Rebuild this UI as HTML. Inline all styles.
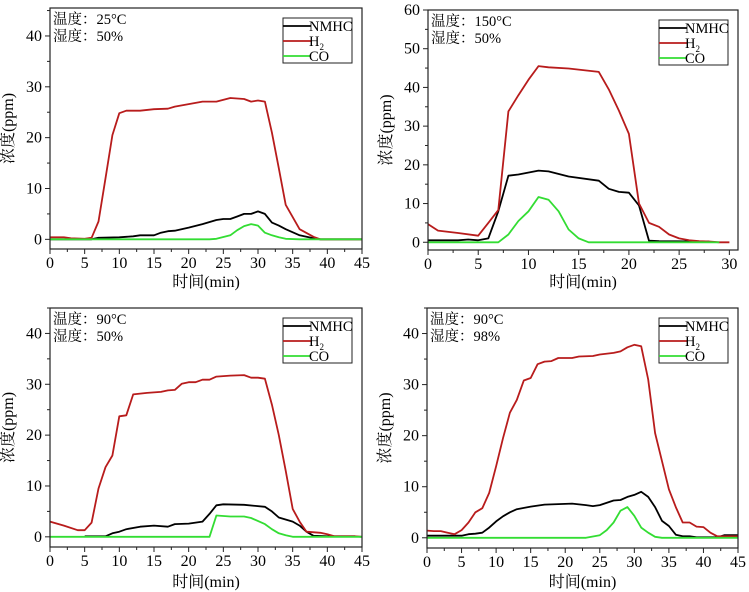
<!DOCTYPE html>
<html><head><meta charset="utf-8"><style>
body{margin:0;background:#fff;}
svg{display:block;font-family:"Liberation Serif","Noto Serif CJK SC",serif;}
</style></head><body>
<svg id="fig" width="749" height="592" viewBox="0 0 749 592"></svg>
<script>
// Panel 1: 25°C, 50%
const p1NMHC=[[0,0],[6,0],[7,0.3],[10,0.4],[12,0.6],[13,0.8],[15,0.8],[16,1.3],[17,1.6],[18,1.7],[20,2.3],[22,3],[24,3.8],[25,4],[26,4],[27,4.5],[28,5],[29,5],[30,5.5],[31,5],[32,3.3],[33,2.7],[34,2],[36,0.8],[37,0.5],[38,0.2],[39,0],[45,0]];
const p1H2=[[0,0.4],[2,0.4],[3,0.2],[5,0.1],[6,0.3],[7,3.5],[8,12],[9,20.5],[10,24.8],[11,25.3],[13,25.3],[15,25.6],[17,25.7],[18,26.1],[20,26.6],[22,27.1],[24,27.1],[26,27.8],[28,27.6],[29,27.1],[30,27.3],[31,27.1],[32,21],[33,14],[34,6.8],[36,2],[38,0.5],[39,0],[42,0],[45,0]];
const p1CO=[[0,0],[23,0],[24,0.1],[26,0.8],[27,1.8],[28,2.6],[29,3],[30,2.7],[31,1.3],[32,0.8],[33,0.4],[34,0.1],[36,0],[45,0]];
// Panel 2: 150°C, 50%
const p2NMHC=[[0,0.5],[3,0.5],[4,0.7],[5,0.5],[6,1],[7,8],[8,17.2],[9,17.5],[11,18.5],[12,18.3],[14,17],[17,15.9],[18,13.8],[19,13],[20,12.8],[21,9.5],[22,0.4],[23,0.3],[28,0.2]];
const p2H2=[[0,4.7],[1,3],[3,2.4],[5,1.7],[6,5],[7,8.3],[8,33.8],[9,38],[10,42],[11,45.5],[12,45.2],[14,44.9],[17,44],[18,39.5],[19,34],[20,28],[21,10],[22,5],[23,4],[24,2],[25,1],[26,0.5],[27,0.3],[28,0.2],[29,0],[30,0]];
const p2CO=[[0,0],[7,0],[8,2],[9,5.5],[10,8],[11,11.7],[12,11],[13,8],[14,3.3],[15,1],[16,0],[29,0]];
// Panel 3: 90°C, 50%
const p3NMHC=[[5,0.1],[8,0.1],[9,0.7],[10,1],[11,1.5],[13,2],[15,2.2],[17,2],[18,2.5],[20,2.6],[22,3],[23,4.5],[24,6.2],[25,6.4],[28,6.3],[31,5.9],[32,5],[33,3.8],[35,3],[36,2.2],[37,1],[38,0.2],[40,0.1],[44,0.1]];
const p3H2=[[0,3],[2,2.2],[4,1.3],[5,1.3],[6,2.8],[7,9.5],[8,13.7],[9,16],[10,23.7],[11,23.9],[12,28],[14,28.3],[16,28.5],[17,28.8],[18,28.9],[19,30.1],[20,30.4],[21,30.4],[22,30.9],[23,30.9],[24,31.5],[26,31.7],[28,31.8],[29,31.3],[30,31.3],[31,31.1],[32,26],[33,20],[34,13],[35,5.5],[36,3],[37,1],[39,0.8],[40,0.5],[41,0.1],[44,0.1],[45,0]];
const p3CO=[[0,0],[23,0],[24,4.2],[26,4],[28,4],[29,3.7],[31,2.5],[32,1.5],[33,0.7],[34,0.3],[35,0],[45,0]];
// Panel 4: 90°C, 98%
const p4NMHC=[[0,0.4],[5,0.4],[6,0.7],[7,0.8],[8,1],[9,2],[10,3.2],[11,4.2],[12,5],[13,5.6],[15,6.1],[17,6.5],[19,6.6],[21,6.7],[23,6.4],[24,6.2],[25,6.4],[27,7.3],[28,7.4],[29,8],[30,8.4],[31,9],[32,8],[33,6],[34,3.3],[35,2.3],[36,0.6],[37,0.3],[38,0.3],[39,0.1],[42,0.1],[43,0.5],[45,0.5]];
const p4H2=[[0,1.4],[1,1.3],[2,1.3],[3,1],[4,0.7],[5,1.5],[6,3],[7,5],[8,5.8],[9,8.8],[10,14],[11,19.5],[12,24.5],[13,27],[14,30.8],[15,31.3],[16,34],[17,34.5],[18,34.6],[19,35.2],[21,35.2],[22,35.5],[24,35.6],[25,35.9],[27,36.2],[28,36.5],[29,37.3],[30,37.8],[31,37.5],[32,31],[33,20.5],[34,15],[35,9.5],[36,6],[37,3],[38,3],[39,2.2],[40,2.1],[41,1],[42,0.3],[43,0.3],[45,0.3]];
const p4CO=[[0,0],[23,0],[25,0.5],[26,1.5],[27,3],[28,5.3],[29,6],[30,4.3],[31,2],[32,1],[33,0.2],[34,0],[45,0]];
const xTicks45=[0,5,10,15,20,25,30,35,40,45];
const xTicks30=[0,5,10,15,20,25,30];
const yTicks40=[0,10,20,30,40];
const yTicks60=[0,10,20,30,40,50,60];
const labels=[["温度：25°C","湿度：50%"],["温度：150°C","湿度：50%"],["温度：90°C","湿度：50%"],["温度：90°C","湿度：98%"]];

const NS="http://www.w3.org/2000/svg";
const svg=document.getElementById('fig');
function mk(tag,attrs,parent){const e=document.createElementNS(NS,tag);for(const k in attrs)e.setAttribute(k,attrs[k]);(parent||svg).appendChild(e);return e;}

const panels=[
 {id:1,L:50,R:362,T:8,B:249,x0:0,x1:45,y0:-1.9,y1:45.5,xt:xTicks45,yt:yTicks40,s:[p1NMHC,p1H2,p1CO],lab:labels[0],ty:287},
 {id:2,L:428,R:738,T:10,B:250,x0:0,x1:30.86,y0:-2,y1:60,xt:xTicks30,yt:yTicks60,s:[p2NMHC,p2H2,p2CO],lab:labels[1],ty:287},
 {id:3,L:50,R:362,T:308,B:547,x0:0,x1:45,y0:-2,y1:45,xt:xTicks45,yt:yTicks40,s:[p3NMHC,p3H2,p3CO],lab:labels[2],ty:587},
 {id:4,L:427,R:738,T:308,B:548,x0:0,x1:45,y0:-2,y1:45,xt:xTicks45,yt:yTicks40,s:[p4NMHC,p4H2,p4CO],lab:labels[3],ty:587}
];
const colors=["#000000","#b81c1c","#33dd33"];
const names=["nmhc","h2","co"];

panels.forEach(p=>{
  const g=mk('g',{});
  
  
  const X=v=>p.L+(v-p.x0)/(p.x1-p.x0)*(p.R-p.L);
  const Y=v=>p.B-(v-p.y0)/(p.y1-p.y0)*(p.B-p.T);
  p.s.forEach((d,i)=>{
    const pl=mk('polyline',{points:d.map(q=>X(q[0]).toFixed(1)+','+Y(q[1]).toFixed(1)).join(' '),fill:'none',stroke:colors[i],'stroke-width':1.8,'stroke-linejoin':'round'},g);
    
    
  });
  const fr=mk('rect',{x:p.L,y:p.T,width:p.R-p.L,height:p.B-p.T,fill:'none',stroke:'#222','stroke-width':1.2},g);
  
  
  const xa=mk('g',{},g);
  
  
  const xs=p.xt[1]-p.xt[0];
  for(let v=p.xt[0];v<=p.xt[p.xt.length-1]+0.01;v+=xs/2){
    const major=Math.abs(v/xs-Math.round(v/xs))<0.01;
    mk('line',{x1:X(v),x2:X(v),y1:p.B,y2:p.B+(major?5:3),stroke:'#222','stroke-width':1},xa);
  }
  p.xt.forEach(v=>{const t=mk('text',{x:X(v),y:p.B+19,'text-anchor':'middle','font-size':16},xa);t.textContent=v;});
  const ya=mk('g',{},g);
  
  
  for(let v=p.yt[0];v<=p.y1;v+=5){
    const major=v%10===0;
    mk('line',{x1:p.L,x2:p.L-(major?5:3),y1:Y(v),y2:Y(v),stroke:'#222','stroke-width':1},ya);
  }
  p.yt.forEach(v=>{const t=mk('text',{x:p.L-8,y:Y(v)+5,'text-anchor':'end','font-size':16},ya);t.textContent=v;});
  const xt=mk('text',{x:(p.L+p.R)/2,y:p.ty,'text-anchor':'middle','font-size':16},g);
  xt.textContent='时间(min)';
  
  
  const cy=(p.T+p.B)/2, tx=p.L-37;
  const yt=mk('text',{x:tx,y:cy,'text-anchor':'middle','font-size':16,transform:`rotate(-90 ${tx} ${cy})`},g);
  yt.textContent='浓度(ppm)';
  
  
  p.lab.forEach((s,i)=>{const t=mk('text',{x:p.L+3,y:p.T+16+i*17,'font-size':14.5},g);t.textContent=s;
    
    });
  const lg=mk('g',{},g);
  
  
  const lx=p.R-79, ly=p.T+10;
  mk('rect',{x:lx,y:ly,width:69,height:45,fill:'#fff',stroke:'#222','stroke-width':1},lg);
  const ln=["NMHC","H","CO"];
  ln.forEach((s,i)=>{
    const yy=ly+8+i*15;
    mk('line',{x1:lx,x2:lx+28,y1:yy,y2:yy,stroke:colors[i],'stroke-width':1.8},lg);
    const t=mk('text',{x:lx+26,y:yy+5,'font-size':14.5},lg);
    t.textContent=s;
    if(i===1){const sub=mk('tspan',{'font-size':9,dy:4},t);sub.textContent='2';}
    
    
  });
});
</script>
</body></html>
